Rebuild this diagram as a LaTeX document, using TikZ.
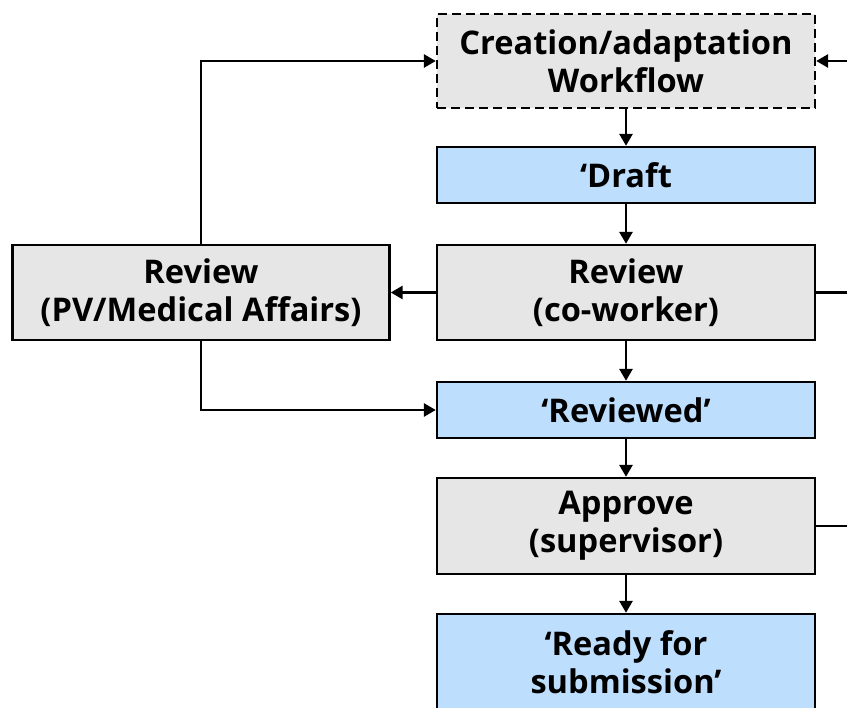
\documentclass[tikz,border=0pt]{standalone}
\usepackage{fontspec}
\setmainfont{Open Sans}
\usetikzlibrary{arrows.meta}
\definecolor{boxgray}{HTML}{E6E6E6}
\definecolor{boxblue}{HTML}{BDDEFD}
\begin{document}
\begin{tikzpicture}[x=1pt,y=-1pt,
  every node/.style={font=\fontsize{32.6}{38}\selectfont\bfseries, align=center, line width=2.4pt, draw=black, inner sep=0pt},
  graybox/.style={fill=boxgray, minimum width=378pt, minimum height=95pt},
  bluebox/.style={fill=boxblue, minimum width=378pt, minimum height=56pt},
  flow/.style={line width=2.8pt, -{Triangle[length=12pt,width=13pt]}},
  plain/.style={line width=2.8pt}]
\useasboundingbox (0,0) rectangle (847,708);
\clip (0,0) rectangle (847,708);

% main column and side review box
\node[graybox, dash pattern=on 9pt off 5pt, minimum height=94pt] (creation) at (626,61) {Creation/adaptation\\Workflow};
\node[bluebox] (draft) at (626,175) {‘Draft};
\node[graybox] (rcw) at (626,292.5) {Review\\(co-worker)};
\node[graybox, minimum width=377pt] (rpv) at (201,292.5) {Review\\(PV/Medical Affairs)};
\node[bluebox] (reviewed) at (626,410) {‘Reviewed’};
\node[graybox, minimum height=96pt] (approve) at (626,526) {Approve\\(supervisor)};
\node[bluebox, minimum height=96pt] (ready) at (626,662) {‘Ready for\\submission’};

% return paths leaving on the right
\coordinate (rin) at (847,61);
\coordinate (rout1) at (847,292.5);
\coordinate (rout2) at (847,526);

\draw[flow] (creation) -- (draft);
\draw[flow] (draft) -- (rcw);
\draw[flow] (rcw) -- (reviewed);
\draw[flow] (reviewed) -- (approve);
\draw[flow] (approve) -- (ready);
\draw[flow] (rcw.west) -- (rpv.east);
\draw[flow] (rpv.north) |- (creation.west);
\draw[flow] (rpv.south) |- (reviewed.west);
\draw[flow] (rin) -- (creation.east);
\draw[plain] (rcw.east) -- (rout1);
\draw[plain] (approve.east) -- (rout2);
\end{tikzpicture}
\end{document}
